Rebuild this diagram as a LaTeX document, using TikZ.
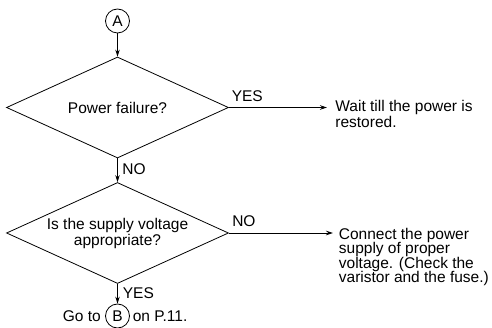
\documentclass[tikz,border=0pt]{standalone}
\usepackage{fontspec}
\setmainfont{Liberation Sans}
\usetikzlibrary{arrows.meta,positioning,calc,shapes.geometric}

\begin{document}
\begin{tikzpicture}[x=1pt,y=-1pt,>={Stealth[length=7pt,width=4.5pt]},line width=0.8pt,
  font=\fontsize{15.5pt}{16pt}\selectfont,
  every node/.style={inner sep=0pt},
  decision/.style={draw,diamond,aspect=2.2,minimum width=222pt,minimum height=101pt,align=center},
  connector/.style={draw,circle,minimum size=24pt},
  note/.style={anchor=north west,align=left}]
  \useasboundingbox (0,0) rectangle (492,328);

  % entry point
  \node[connector] (A) at (117.5,21) {A};

  % first check
  \node[decision] (fail) at (117.5,107.5) {Power failure?};
  \draw[->] (A) -- (fail);
  \node[note] (wait) at (335,100) {Wait till the power is\\restored.};
  \draw[->,shorten >=8pt] (fail.east) -- (fail.east -| wait.west);
  \node[anchor=south west] (yes1) at ([xshift=2.5pt,yshift=5pt]fail.east) {YES};
  \node[anchor=north west] (no1) at ([xshift=4.5pt,yshift=-4.5pt]fail.south) {NO};

  % second check
  \node[decision] (volt) at (117.5,233) {Is the supply voltage\\appropriate?};
  \draw[->] (fail) -- (volt);
  \node[note,font=\fontsize{15.5pt}{14.5pt}\selectfont] (fix) at (338.5,227.5)
    {Connect the power\\supply of proper\\voltage. (Check the\\varistor and the fuse.)};
  \draw[->,shorten >=5.5pt] (volt.east) -- (volt.east -| fix.west);
  \node[anchor=south west] (no2) at ([xshift=3pt,yshift=6pt]volt.east) {NO};
  \node[anchor=north west] (yes2) at ([xshift=5pt,yshift=-3.5pt]volt.south) {YES};

  % exit
  \node[connector] (B) at (117.5,316) {B};
  \draw[->] (volt) -- (B);
  \node[left=4pt of B] (goto) {Go to};
  \node[right=2.5pt of B] (page) {on P.11.};
\end{tikzpicture}
\end{document}
